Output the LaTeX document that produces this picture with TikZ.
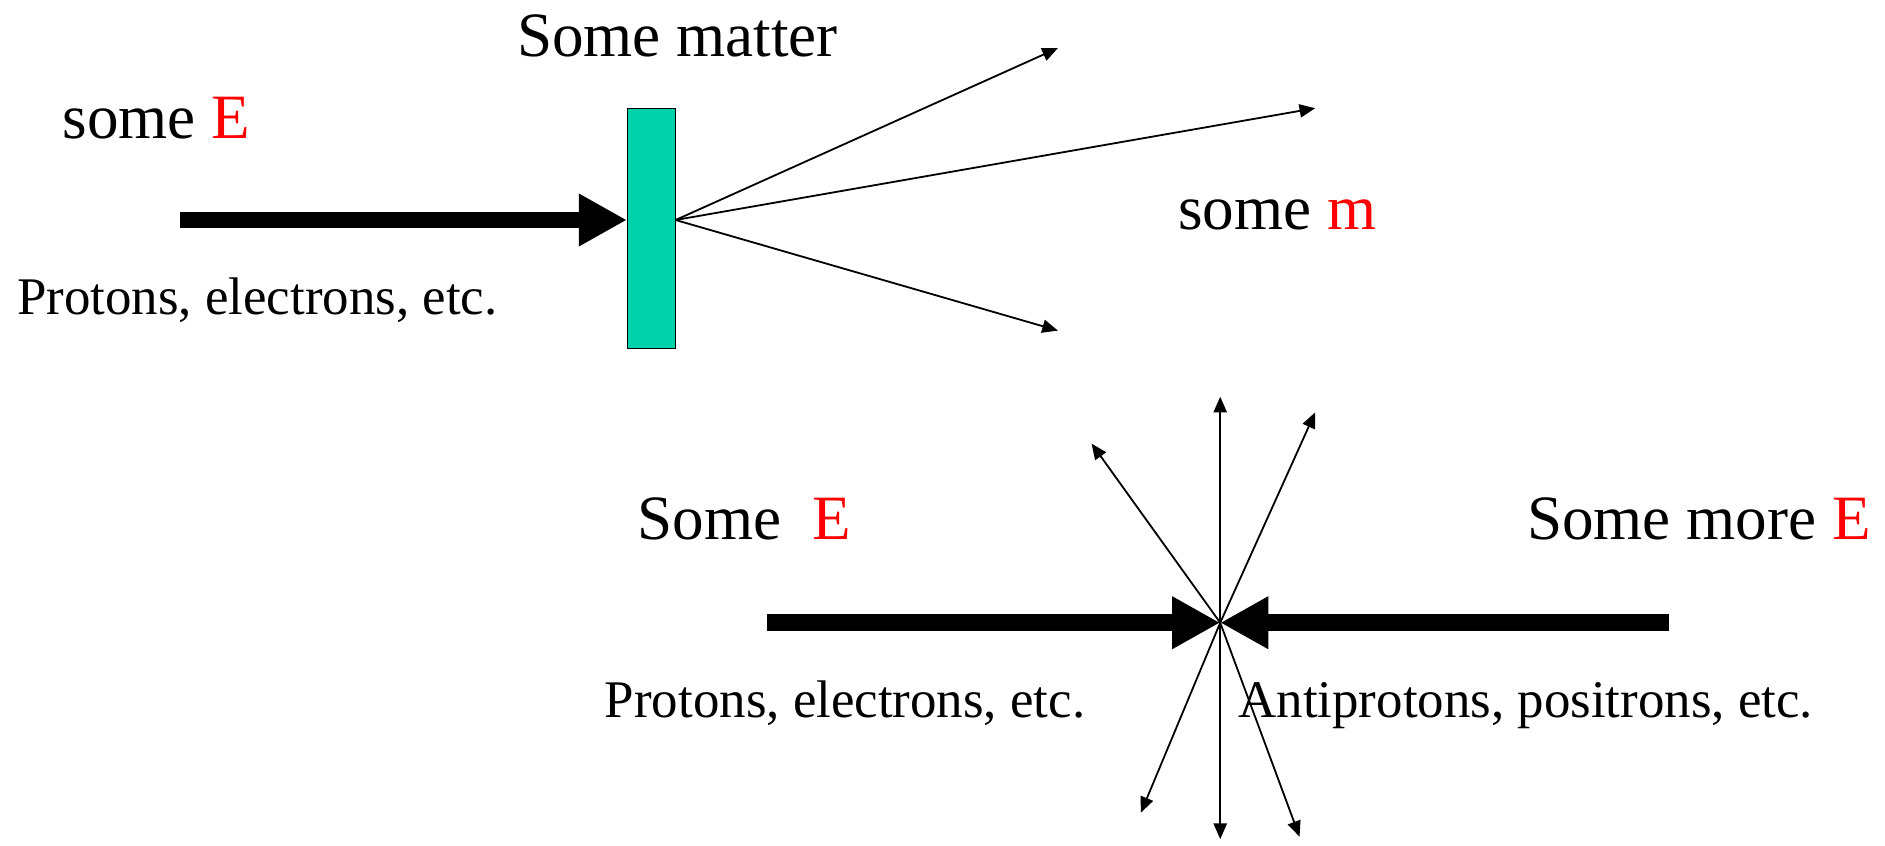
\documentclass[tikz,border=0pt]{standalone}
\usepackage{fontspec}
\setmainfont{Liberation Serif}
\usetikzlibrary{arrows.meta}
\definecolor{matter}{RGB}{0,211,170}
\begin{document}
\begin{tikzpicture}[x=1pt,y=-1pt,
  big/.style={font=\fontsize{52.5}{60}\selectfont, inner sep=0pt, anchor=base west},
  small/.style={font=\fontsize{44}{50}\selectfont, inner sep=0pt, anchor=base west},
  beam/.style={line width=14pt, -{Triangle[length=40pt,width=41pt]}},
  ray/.style={line width=1.5pt, -{Triangle[length=13pt,width=11pt]}},
]
\useasboundingbox (0,0) rectangle (1568,703);

% ---------- top part ----------
\node[big] (matterlbl) at (430,47) {Some matter};
\node[big] (someE1) at (52,115) {some {\color{red}E}};
\node[small] (prot1) at (14,262) {Protons, electrons, etc.};
\node[big] (somem) at (980,191) {some {\color{red}m}};

\node[draw=black, line width=1pt, fill=matter, minimum width=40pt, minimum height=200pt, inner sep=0pt] (slab) at (542,190) {};

\coordinate (srcA) at (150,183);
\coordinate (hit) at (562,183);
\coordinate (outA1) at (880,40);
\coordinate (outA2) at (1094,90);
\coordinate (outA3) at (880,275);

\draw[beam] (srcA) -- (srcA -| slab.west);
\draw[ray] (hit) -- (outA1);
\draw[ray] (hit) -- (outA2);
\draw[ray] (hit) -- (outA3);

% ---------- bottom part ----------
\node[big] (someE2) at (530,449) {Some\ \ {\color{red}E}};
\node[big] (moreE) at (1270,449) {Some more {\color{red}E}};
\node[small] (prot2) at (503,597) {Protons, electrons, etc.};
\node[small] (anti) at (1030,597) {Antiprotons, positrons, etc.};

\coordinate (ctr) at (1015,518);
\coordinate (srcL) at (638,518);
\coordinate (srcR) at (1388,518);
\coordinate (up) at (1015,330);
\coordinate (down) at (1015,698);
\coordinate (ul) at (908,369);
\coordinate (ur) at (1094,343);
\coordinate (dl) at (949,676);
\coordinate (dr) at (1081,696);

\draw[ray] (ctr) -- (up);
\draw[ray] (ctr) -- (down);
\draw[ray] (ctr) -- (ul);
\draw[ray] (ctr) -- (ur);
\draw[ray] (ctr) -- (dl);
\draw[ray] (ctr) -- (dr);

\draw[beam] (srcL) -- (ctr);
\draw[beam] (srcR) -- (ctr);
\end{tikzpicture}
\end{document}
